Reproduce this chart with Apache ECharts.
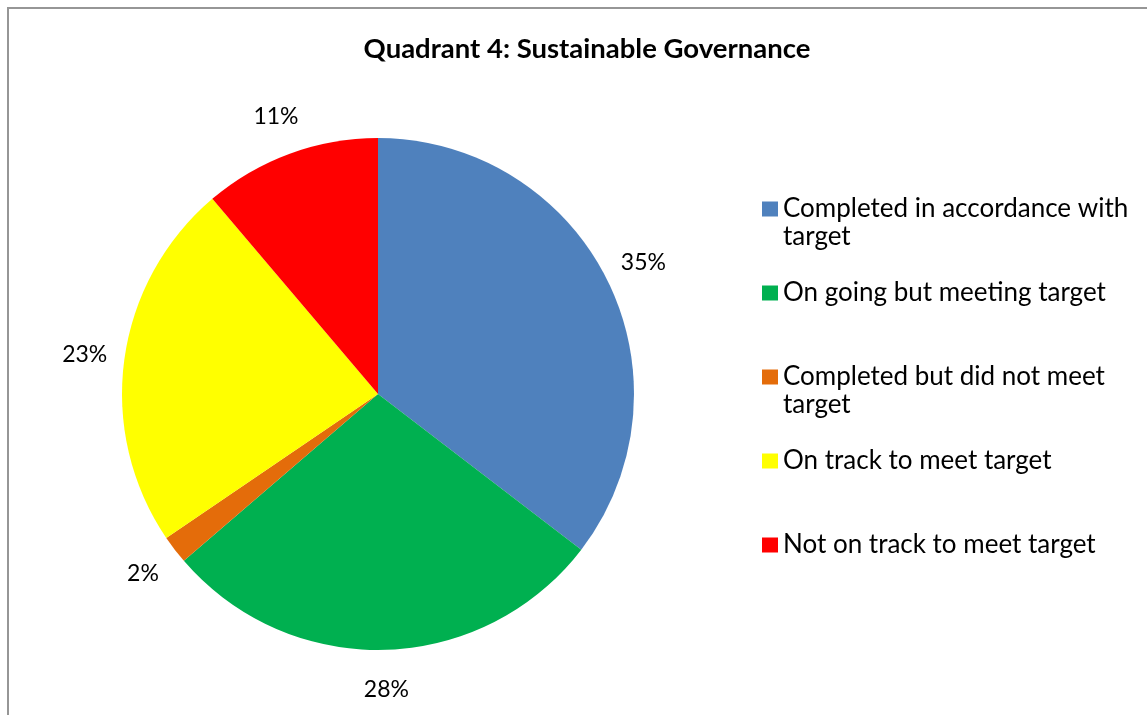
<!DOCTYPE html>
<html>
<head>
<meta charset="utf-8">
<script src="https://cdn.jsdelivr.net/npm/echarts@6/dist/echarts.min.js"></script>
<style>
html,body{margin:0;padding:0;background:#fff;}
#chart{width:1147px;height:715px;}
</style>
</head>
<body>
<div id="chart"></div>
<script>
const titleText = 'Quadrant 4: Sustainable Governance';
const categories = [
  'Completed in accordance with target',
  'On going but meeting target',
  'Completed but did not meet target',
  'On track to meet target',
  'Not on track to meet target'
];
const legendLabels = [
  'Completed in accordance with\ntarget',
  'On going but meeting target',
  'Completed but did not meet\ntarget',
  'On track to meet target',
  'Not on track to meet target'
];
const values = [35.4, 28.3, 1.8, 23.3, 11.2];
const colors = ['#4F81BD', '#00B050', '#E46C0A', '#FFFF00', '#FF0000'];

const FONT = 'Lato';
const L = 28;

const pieData = categories.map((c, i) => ({ name: c, value: values[i], itemStyle: { color: colors[i] } }));

// two-line entries get a leading empty line so their first line sits beside the icon;
// single-line entries get padding so every entry occupies the same height
const legendData = categories.map((c, i) => {
  const twoLine = legendLabels[i].indexOf('\n') >= 0;
  return twoLine ? { name: c } : { name: c, textStyle: { padding: [L, 0, L, 0] } };
});

const chart = echarts.init(document.getElementById('chart'), null, { renderer: 'canvas' });
chart.setOption({
  backgroundColor: '#fff',
  animation: false,
  title: {
    text: titleText,
    left: 582,
    textAlign: 'center',
    top: 30,
    textStyle: { fontFamily: FONT, fontWeight: 'bold', fontSize: 27.5, color: '#000' }
  },
  graphic: [{
    type: 'rect',
    shape: { x: 8, y: 8, width: 1160, height: 720 },
    style: { fill: 'none', stroke: '#969696', lineWidth: 2 },
    silent: true
  }],
  legend: {
    orient: 'vertical',
    left: 762,
    top: 167,
    padding: 0,
    itemGap: 0,
    itemWidth: 16,
    itemHeight: 15,
    itemStyle: { borderWidth: 0 },
    icon: 'rect',
    selectedMode: false,
    data: legendData,
    formatter: name => {
      const t = legendLabels[categories.indexOf(name)];
      return t.indexOf('\n') >= 0 ? '\n' + t : t;
    },
    textStyle: { fontFamily: FONT, fontSize: 26, color: '#000', lineHeight: L }
  },
  series: [{
    type: 'pie',
    center: [378, 394],
    radius: [0, 256],
    startAngle: 90,
    clockwise: true,
    label: { show: false },
    labelLine: { show: false },
    emphasis: { disabled: true },
    itemStyle: { borderWidth: 0 },
    data: pieData,
    silent: true
  }, {
    type: 'pie',
    center: [378, 394],
    radius: [256, 330],
    startAngle: 90,
    clockwise: true,
    silent: true,
    emphasis: { disabled: true },
    itemStyle: { color: 'rgba(0,0,0,0)', borderWidth: 0 },
    label: {
      show: true,
      position: 'inside',
      fontFamily: FONT,
      fontSize: 23,
      color: '#000',
      formatter: p => Math.round(p.percent) + '%'
    },
    labelLine: { show: false },
    data: categories.map((c, i) => ({ name: c, value: values[i] }))
  }]
});
</script>
</body>
</html>
